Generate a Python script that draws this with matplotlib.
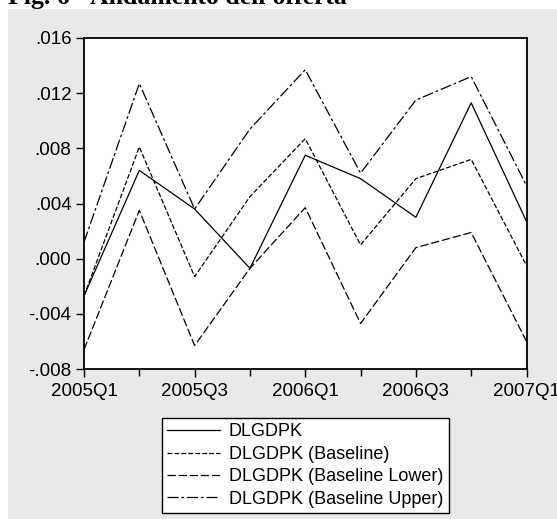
import matplotlib
matplotlib.use("Agg")
import matplotlib.pyplot as plt
from matplotlib.patches import Rectangle
from matplotlib.ticker import FuncFormatter, MultipleLocator

plt.rcParams['lines.scale_dashes'] = False

quarters = ["2005Q1", "2005Q2", "2005Q3", "2005Q4", "2006Q1",
            "2006Q2", "2006Q3", "2006Q4", "2007Q1"]
dlgdpk = [-0.0027, 0.0064, 0.0036, -0.0007, 0.0075, 0.0058, 0.0030, 0.0113, 0.0027]
baseline = [-0.0027, 0.0081, -0.0013, 0.0045, 0.0087, 0.0010, 0.0058, 0.0072, -0.0005]
baseline_lower = [-0.0066, 0.0035, -0.0063, -0.0007, 0.0037, -0.0047, 0.0008, 0.0019, -0.0060]
baseline_upper = [0.0012, 0.0127, 0.0036, 0.0094, 0.0137, 0.0062, 0.0115, 0.0132, 0.0053]
series_labels = ["DLGDPK", "DLGDPK (Baseline)", "DLGDPK (Baseline Lower)", "DLGDPK (Baseline Upper)"]
title_text = "Fig. 6 - Andamento dell'offerta"

W, H = 557, 519
fig = plt.figure(figsize=(W / 100, H / 100), dpi=100)
fig.patch.set_facecolor("white")
bg = Rectangle((8 / W, 0), 1 - 8 / W, 1 - 9 / H, transform=fig.transFigure,
               facecolor="#E9E9E9", edgecolor="none", zorder=-10)
fig.add_artist(bg)

fig.text(8 / W, 1 - 4 / H, title_text, family="Liberation Serif", weight="bold",
         fontsize=18.5, va="baseline", ha="left", zorder=-5)

ax = fig.add_axes([84 / W, (H - 369) / H, (526.5 - 84) / W, (369 - 38) / H])
ax.set_zorder(1)
ax.set_facecolor("white")
x = list(range(len(quarters)))
lw = 0.9
ax.plot(x, dlgdpk, color="black", lw=lw, label=series_labels[0])
ax.plot(x, baseline, color="black", lw=lw, dashes=(3.5, 1.5), label=series_labels[1])
ax.plot(x, baseline_lower, color="black", lw=lw, dashes=(6, 2), label=series_labels[2])
ax.plot(x, baseline_upper, color="black", lw=lw, dashes=(8, 2, 2, 2), label=series_labels[3])

ax.set_xlim(0, len(quarters) - 1)
ax.set_ylim(-0.008, 0.016)
ax.yaxis.set_major_locator(MultipleLocator(0.004))
def yfmt(v, pos):
    s = "%.3f" % v
    if s.startswith("-0"):
        s = "-" + s[2:]
    elif s.startswith("0"):
        s = s[1:]
    if s == "-.000":
        s = ".000"
    return s
ax.yaxis.set_major_formatter(FuncFormatter(yfmt))
ax.set_xticks(x[::2])
ax.set_xticklabels(quarters[::2])
ax.set_xticks(x, minor=True)
for sp in ax.spines.values():
    sp.set_linewidth(1.3)
ax.tick_params(axis="y", which="major", direction="out", length=6, width=1,
               labelsize=13.5, pad=3)
ax.tick_params(axis="x", which="major", direction="out", length=6, width=1,
               labelsize=13.5, pad=4)
ax.tick_params(axis="x", which="minor", direction="out", length=5, width=1)
for lab in ax.get_xticklabels() + ax.get_yticklabels():
    lab.set_family("Liberation Sans")

leg = fig.legend(loc="upper left", bbox_to_anchor=(162 / W, 1 - 418 / H),
                 prop={"family": "Liberation Sans", "size": 13},
                 frameon=True, fancybox=False, edgecolor="black", facecolor="white",
                 framealpha=1, handlelength=2.9, handletextpad=0.5,
                 labelspacing=0.3, borderpad=0.3, borderaxespad=0)
leg.get_frame().set_linewidth(1.0)
leg.set_zorder(2)

fig.savefig("out.png", dpi=100)
